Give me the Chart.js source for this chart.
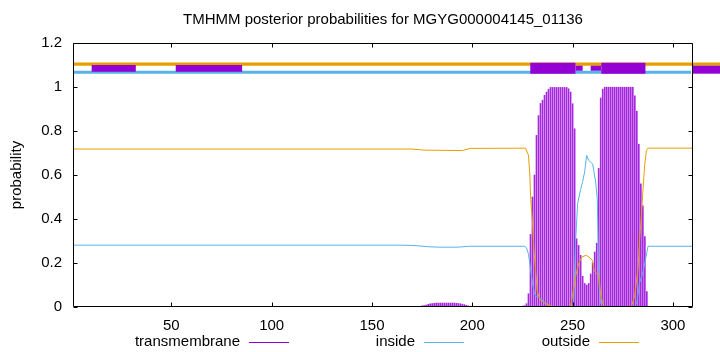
<!DOCTYPE html>
<html><head><meta charset="utf-8">
<script src="https://cdn.jsdelivr.net/npm/chart.js@4.4.1/dist/chart.umd.min.js"></script>
<style>html,body{margin:0;padding:0;background:#fff}</style>
</head><body>
<canvas id="c" width="720" height="352"></canvas>
<script>
// ---------- data ----------
const chartTitle = 'TMHMM posterior probabilities for MGYG000004145_01136';
const yAxisTitle = 'probability';
const seriesNames = ['transmembrane', 'inside', 'outside'];
const xRange = [1, 310];
const xTicks = [50, 100, 150, 200, 250, 300];
const yTicks = [0, 0.2, 0.4, 0.6, 0.8, 1, 1.2];
const yTickLabels = ['0', '0.2', '0.4', '0.6', '0.8', '1', '1.2'];

// transmembrane posterior per residue, starting at residue tmStart
const tmStart = 165;
const tmValues = [
  0.003,0.003,0.003,0.003,0.003,0.003,0.003,0.003,0.003,0.003,           // 165-174
  0.005,0.007,0.009,0.012,0.014,0.016,0.017,                              // 175-181
  0.018,0.018,0.018,0.018,0.018,0.018,0.018,0.018,0.018,0.018,           // 182-191
  0.017,0.016,0.015,0.013,0.011,0.008,0.005,0.003,                        // 192-199
  0.001,0.001,0.001,0.001,0.001,0.001,0.001,                              // 200-206
  0.003,0.003,0.003,0.003,0.003,0.003,0.003,0.003,0.003,
  0.003,0.003,0.003,0.003,0.003,0.003,0.003,0.003,0.003,                  // 207-224
  0.004,0.006,0.015,0.06,0.33,0.5,0.6,0.78,0.87,0.925,0.94,0.962,0.977,0.99, // 225-238
  0.998,0.998,0.998,0.998,0.998,0.998,0.998,0.998,0.998,                  // 239-247
  0.992,0.977,0.924,0.81,0.31,0.28,0.235,0.14,0.107,0.1,0.107,0.15,0.2,0.25,0.29, // 248-262
  0.63,0.95,0.99,                                                         // 263-265
  0.999,0.999,0.999,0.999,0.999,0.999,0.999,0.999,0.999,0.999,0.999,0.999,0.999,0.999,0.999, // 266-280
  0.96,0.89,0.74,0.56,0.46,0.32,0.07                                      // 281-287
];

const insideX = [1,165,172,178,183,193,198,226,227,228,229,230,231,232,234,236,238,240,249,250.5,251.5,252.5,254,255,256,257,258,260,261.5,262.3,263,264,265,281,282,283.4,285.1,286.4,287.6,310];
const insideY = [0.281,0.281,0.279,0.274,0.272,0.272,0.276,0.276,0.27,0.24,0.175,0.11,0.06,0.047,0.038,0.022,0.008,0.001,0.001,0.01,0.3,0.47,0.535,0.57,0.614,0.689,0.667,0.65,0.568,0.49,0.13,0.015,0.001,0.001,0.02,0.11,0.16,0.22,0.276,0.276];

const outsideX = [1,170,176,195,199,226.5,228,228.7,229.1,229.9,230.7,231.6,232.4,234,236.5,239,241,249,250,251.6,253,254.6,256.6,258.2,259.9,260.7,261.9,263.1,264,265.2,266,279.3,281,282.6,283.4,284.3,285.1,285.9,286.8,287.6,310];
const outsideY = [0.718,0.718,0.713,0.711,0.721,0.722,0.69,0.6,0.49,0.4,0.264,0.16,0.068,0.03,0.015,0.005,0.001,0.001,0.054,0.144,0.197,0.227,0.235,0.227,0.212,0.167,0.152,0.144,0.054,0.01,0.001,0.001,0.054,0.174,0.31,0.417,0.538,0.644,0.712,0.722,0.722];

// top annotation bands (x span, y low/high)
const outsideBandX = [1, 324];
const outsideBandY = [1.0964, 1.1118];
const insideBandX = [1, 309];
const insideBandY = [1.060, 1.074];
// top transmembrane boxes
const boxStart = [10.3, 52.2, 228.9, 251.4, 259.0, 264.3, 310.0];
const boxEnd   = [32.3, 85.3, 251.4, 255.0, 264.3, 286.3, 324.0];
const boxLow   = [1.0695, 1.0695, 1.0605, 1.074, 1.074, 1.0605, 1.0605];
const boxHigh  = [1.100, 1.100, 1.1105, 1.097, 1.097, 1.1105, 1.097];

// ---------- styles ----------
const colTM = '#9400D3', colIn = '#56B4E9', colOut = '#E69F00';
const FONT = 'Liberation Sans, Arial, Helvetica, sans-serif';
const FS = 15;

function bandWidth(lo, hi) {
  return (ctx) => {
    const y = ctx.chart.scales.y;
    if (!y) return 3;
    return Math.abs(y.getPixelForValue(lo) - y.getPixelForValue(hi));
  };
}
function bandDataset(xs, ys, color) {
  const mid = (ys[0] + ys[1]) / 2;
  return {
    type: 'line',
    data: [{x: xs[0], y: mid}, {x: xs[1], y: mid}],
    borderColor: color, backgroundColor: color,
    borderWidth: bandWidth(ys[0], ys[1]),
    borderCapStyle: 'butt', pointRadius: 0, fill: false, clip: false, tension: 0
  };
}

const datasets = [];
datasets.push({
  type: 'bar', label: seriesNames[0],
  data: tmValues.map((v, i) => ({x: tmStart + i, y: v})),
  backgroundColor: 'rgb(166, 40, 222)', borderWidth: 0, barThickness: 1, order: 10
});
datasets.push({
  type: 'line', label: seriesNames[1],
  data: insideX.map((x, i) => ({x, y: insideY[i]})),
  borderColor: colIn, borderWidth: 1, pointRadius: 0, tension: 0, fill: false, order: 5
});
datasets.push({
  type: 'line', label: seriesNames[2],
  data: outsideX.map((x, i) => ({x, y: outsideY[i]})),
  borderColor: colOut, borderWidth: 1, pointRadius: 0, tension: 0, fill: false, order: 4
});
const ob = bandDataset(outsideBandX, outsideBandY, colOut); ob.order = 3; datasets.push(ob);
const ib = bandDataset(insideBandX, insideBandY, colIn); ib.order = 2; datasets.push(ib);
boxStart.forEach((s, i) => {
  const d = bandDataset([s, boxEnd[i]], [boxLow[i], boxHigh[i]], colTM);
  d.order = 1; datasets.push(d);
});

// frame + inward ticks plugin
const framePlugin = {
  id: 'frame',
  afterDatasetsDraw(chart) {
    const ctx = chart.ctx;
    const a = chart.chartArea;
    const xs = chart.scales.x, ys = chart.scales.y;
    const L = Math.round(a.left) + 0.5, R = Math.round(a.right) - 0.5;
    const T = Math.round(a.top) + 0.5, B = Math.round(a.bottom) - 0.5;
    ctx.save();
    ctx.lineWidth = 1;
    ctx.strokeStyle = '#000';
    ctx.beginPath();
    ctx.moveTo(L, T); ctx.lineTo(R, T); ctx.lineTo(R, B); ctx.lineTo(L, B); ctx.closePath();
    ctx.stroke();
    const tl = 4;
    ctx.beginPath();
    xTicks.forEach(v => {
      const px = Math.round(xs.getPixelForValue(v)) + 0.5;
      ctx.moveTo(px, B); ctx.lineTo(px, B - tl);
      ctx.moveTo(px, T); ctx.lineTo(px, T + tl);
    });
    yTicks.forEach(v => {
      const py = Math.round(ys.getPixelForValue(v)) + 0.5;
      ctx.moveTo(L, py); ctx.lineTo(L + tl, py);
      ctx.moveTo(R, py); ctx.lineTo(R - tl, py);
    });
    ctx.stroke();
    ctx.restore();
  }
};

// gnuplot style legend: text then line sample
const legendPlugin = {
  id: 'gpLegend',
  afterDraw(chart) {
    const ctx = chart.ctx;
    const colors = [colTM, colIn, colOut];
    const lineStarts = [249, 424, 599];
    const yMid = 342;
    ctx.save();
    ctx.font = FS + 'px ' + FONT;
    ctx.textAlign = 'right';
    ctx.textBaseline = 'middle';
    ctx.fillStyle = '#000';
    seriesNames.forEach((n, i) => {
      ctx.fillText(n, lineStarts[i] - 9, yMid);
      ctx.strokeStyle = colors[i];
      ctx.lineWidth = 1;
      ctx.beginPath();
      ctx.moveTo(lineStarts[i], yMid + 0.5);
      ctx.lineTo(lineStarts[i] + 40, yMid + 0.5);
      ctx.stroke();
    });
    ctx.restore();
  }
};

new Chart(document.getElementById('c'), {
  type: 'line',
  data: {datasets},
  plugins: [framePlugin, legendPlugin],
  options: {
    responsive: false,
    animation: false,
    devicePixelRatio: 1,
    layout: {padding: {left: 0, right: 27, top: 0, bottom: 0}},
    plugins: {
      legend: {display: false},
      tooltip: {enabled: false},
      title: {
        display: true, text: chartTitle, color: '#000', fullSize: false,
        font: {family: FONT, size: FS, weight: 'normal'},
        padding: {top: 11, bottom: 14}
      }
    },
    scales: {
      x: {
        type: 'linear', min: xRange[0], max: xRange[1], offset: false,
        grid: {display: false, drawTicks: false, offset: false},
        border: {display: false},
        ticks: {color: '#000', font: {family: FONT, size: FS}, padding: 10, maxRotation: 0, autoSkip: false},
        afterBuildTicks: s => { s.ticks = xTicks.map(v => ({value: v})); },
        afterFit: s => { s.height = 45; }
      },
      y: {
        type: 'linear', min: 0, max: 1.2,
        grid: {display: false, drawTicks: false},
        border: {display: false},
        ticks: {color: '#000', font: {family: FONT, size: FS}, padding: 11,
                callback: (v, i) => yTickLabels[i]},
        afterBuildTicks: s => { s.ticks = yTicks.map(v => ({value: v})); },
        afterFit: s => { s.width = 73; },
        title: {display: true, text: yAxisTitle, color: '#000',
                font: {family: FONT, size: FS}, padding: {top: 8, bottom: 0}}
      }
    }
  }
});
</script>
</body></html>
